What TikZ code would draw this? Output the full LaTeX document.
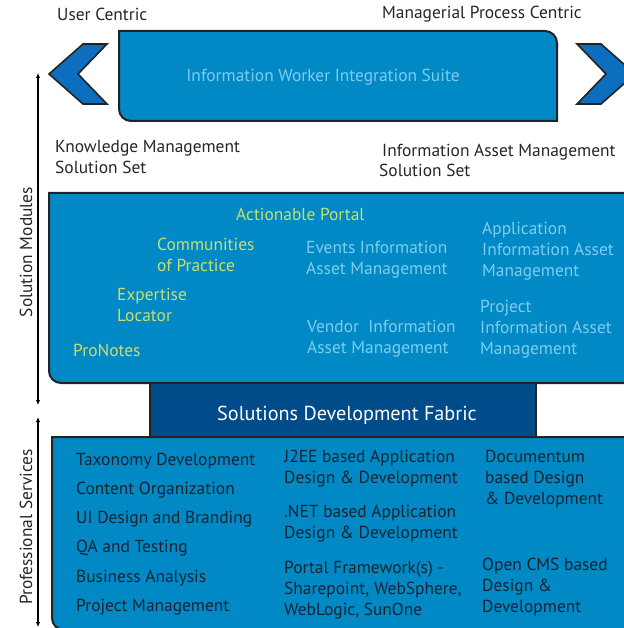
\documentclass[tikz,border=0pt]{standalone}
\usepackage{fontspec}
\setmainfont{PT Sans}
\usetikzlibrary{arrows.meta}

\definecolor{modblue}{RGB}{0,137,196}
\definecolor{chevblue}{RGB}{12,110,190}
\definecolor{fabblue}{RGB}{0,75,138}
\definecolor{paleblue}{RGB}{125,205,240}
\definecolor{limetext}{RGB}{200,222,110}
\definecolor{darktext}{RGB}{25,35,50}
\definecolor{edgegray}{RGB}{35,35,35}

\tikzset{
  panel/.style={draw=edgegray, line width=2pt, fill=modblue},
  chevron/.style={draw=edgegray, line width=1.6pt, fill=chevblue, line join=miter},
  txt/.style={anchor=base west, inner sep=0pt, align=left,
    font=\fontsize{17.4}{21}\selectfont},
  blacktxt/.style={txt, text=black!85},
  limetxt/.style={txt, text=limetext},
  paletxt/.style={txt, text=paleblue},
  darktxt/.style={txt, text=darktext},
  axis/.style={line width=1.2pt, {Latex[length=5pt,width=4.5pt]}-{Latex[length=5pt,width=4.5pt]}}
}

\begin{document}
\begin{tikzpicture}[x=1pt, y=-1pt]
  \useasboundingbox (0,0) rectangle (623,628);
  % multi-line texts sit on the baseline of their last line

  % top suite with its two chevrons
  \draw[panel] (119,31) -- (545,31) arc[start angle=-90, end angle=0, radius=12]
    -- (557,121) -- (131,121) arc[start angle=90, end angle=180, radius=12] -- cycle;
  \draw[chevron] (83,44) -- (49,74) -- (83,104) -- (107,104) -- (78,74) -- (107,44) -- cycle;
  \draw[chevron] (601,44) -- (635,74) -- (601,104) -- (577,104) -- (606,74) -- (577,44) -- cycle;
  \node[txt, text=paleblue, anchor=base] (suite) at (323,82) {Information Worker Integration Suite};

  \node[blacktxt] (user) at (57,21) {User Centric};
  \node[blacktxt] (manager) at (382,19) {Managerial Process Centric};
  \node[blacktxt] (kmset) at (55,174) {Knowledge Management\\Solution Set};
  \node[blacktxt] (iamset) at (382,157) {Information Asset Management};
  \node[blacktxt] (iamset2) at (379,177) {Solution Set};

  % boxes
  \draw[line width=2pt, draw=edgegray, fill=fabblue] (150,383) rectangle (536,437);
  \draw[panel] (49,193) -- (640,193) -- (640,383) -- (61,383)
    arc[start angle=90, end angle=180, radius=12] -- cycle;
  \draw[panel] (52,437) -- (640,437) -- (640,630) -- (64,630)
    arc[start angle=90, end angle=180, radius=12] -- cycle;
  \node[txt, text=white, anchor=base, font=\fontsize{20.2}{24}\selectfont] (fabric) at (347,420)
    {Solutions Development Fabric};

  % solution modules
  \node[limetxt] (portal) at (236,221) {Actionable Portal};
  \node[limetxt] (cop) at (157,271) {Communities\\of Practice};
  \node[limetxt] (expert) at (117,321) {Expertise\\Locator};
  \node[limetxt] (pronotes) at (73,356) {ProNotes};
  \node[paletxt] (events) at (306,274) {Events Information\\Asset Management};
  \node[paletxt] (vendor) at (307,353) {Vendor~ Information\\Asset Management};
  \node[paletxt] (appiam) at (482,276) {Application\\Information Asset\\Management};
  \node[paletxt] (projiam) at (480,354) {Project\\Information Asset\\Management};

  % professional services
  \foreach \t [count=\i from 0] in {Taxonomy Development, Content Organization,
      UI Design and Branding, QA and Testing, Business Analysis, Project Management}
    \node[darktxt] (svc\i) at (76,{465+29.3*\i}) {\t};
  \node[darktxt] (jee) at (284,483) {J2EE based Application\\Design \& Development};
  \node[darktxt] (dotnet) at (284,538) {.NET based Application\\Design \& Development};
  \node[darktxt] (portalfw) at (284,615) {Portal Framework(s) -\\Sharepoint, WebSphere,\\WebLogic, SunOne};
  \node[darktxt] (documentum) at (485,504) {Documentum\\based Design\\\& Development};
  \node[darktxt] (opencms) at (482,612) {Open CMS based\\Design \&\\Development};

  % left axis
  \coordinate (modtop) at (38,73);
  \coordinate (modbot) at (38,405);
  \coordinate (srvtop) at (38,417);
  \coordinate (srvbot) at (38,627);
  \draw[axis] (modbot) -- (modtop);
  \draw[axis] (srvbot) -- (srvtop);
  \node[txt, text=black!85, rotate=90, anchor=base] (modlabel) at (32,252) {Solution Modules};
  \node[txt, text=black!85, rotate=90, anchor=base] (srvlabel) at (32,527) {Professional Services};
\end{tikzpicture}
\end{document}
